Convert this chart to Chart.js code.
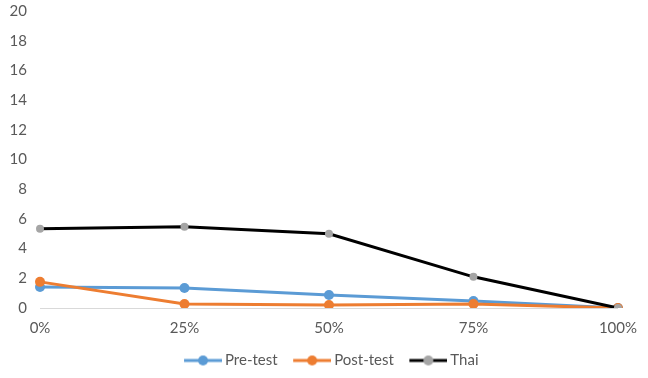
<!DOCTYPE html>
<html>
<head>
<meta charset="utf-8">
<script src="https://cdn.jsdelivr.net/npm/chart.js@4.4.1/dist/chart.umd.min.js"></script>
<style>
  html, body { margin: 0; padding: 0; background: #fff; }
  #wrap { width: 648px; height: 378px; }
</style>
</head>
<body>
<div id="wrap"><canvas id="chart" width="648" height="378"></canvas></div>
<script>
// dane
const categories = ['0%', '25%', '50%', '75%', '100%'];
const preTest = [1.42, 1.35, 0.88, 0.47, 0];
const postTest = [1.76, 0.27, 0.2, 0.27, 0];
const thai = [5.34, 5.47, 5.0, 2.1, 0];
const seriesNames = ['Pre-test', 'Post-test', 'Thai'];

const textColor = '#595959';
const fontFamily = 'Lato, "Open Sans", sans-serif';

// ikonka legendy: przezroczysty margines z lewej, potem linia z kropką
function legendIcon(lineColor, dotColor) {
    const c = document.createElement('canvas');
    c.width = 53;
    c.height = 12;
    const g = c.getContext('2d');
    g.strokeStyle = lineColor;
    g.lineWidth = 3;
    g.beginPath();
    g.moveTo(15, 6);
    g.lineTo(53, 6);
    g.stroke();
    g.fillStyle = dotColor;
    g.beginPath();
    g.arc(34, 6, 5, 0, Math.PI * 2);
    g.fill();
    return c;
}
const icons = [
    legendIcon('#5b9bd5', '#5b9bd5'),
    legendIcon('#ed7d31', '#ed7d31'),
    legendIcon('#000000', '#a5a5a5')
];

// przesunięcie legendy, żeby była wyśrodkowana pod obszarem wykresu
const legendShift = {
    id: 'legendShift',
    afterLayout(chart) {
        if (chart.legend) {
            chart.legend.left += 15;
            chart.legend.right += 15;
        }
    }
};

const ctx = document.getElementById('chart').getContext('2d');
new Chart(ctx, {
    type: 'line',
    data: {
        labels: categories,
        datasets: [{
            label: seriesNames[0],
            data: preTest,
            borderColor: '#5b9bd5',
            backgroundColor: '#5b9bd5',
            borderWidth: 3,
            pointRadius: 5,
            pointBorderWidth: 0,
            order: 2
        }, {
            label: seriesNames[1],
            data: postTest,
            borderColor: '#ed7d31',
            backgroundColor: '#ed7d31',
            borderWidth: 3,
            pointRadius: 5,
            pointBorderWidth: 0,
            order: 1
        }, {
            label: seriesNames[2],
            data: thai,
            borderColor: '#000000',
            backgroundColor: '#a5a5a5',
            borderWidth: 3,
            pointRadius: 4,
            pointBorderWidth: 0,
            order: 0
        }]
    },
    plugins: [legendShift],
    options: {
        responsive: false,
        animation: false,
        tension: 0,
        elements: {
            point: { pointStyle: 'circle' }
        },
        layout: {
            padding: { left: 0, right: 26, top: 11, bottom: 0 }
        },
        scales: {
            x: {
                offset: false,
                grid: { display: false, drawTicks: false },
                border: { color: '#d9d9d9', width: 1 },
                ticks: {
                    color: textColor,
                    font: { family: fontFamily, size: 15 },
                    padding: 11,
                    maxRotation: 0
                }
            },
            y: {
                min: 0,
                max: 20,
                grid: { display: false, drawTicks: false },
                border: { display: false },
                ticks: {
                    stepSize: 2,
                    color: textColor,
                    font: { family: fontFamily, size: 15 },
                    padding: 13
                },
                afterFit: function (scale) {
                    scale.width = 40;
                    scale.paddingTop = 0;
                }
            }
        },
        plugins: {
            legend: {
                position: 'bottom',
                labels: {
                    usePointStyle: true,
                    pointStyleWidth: 44,
                    color: textColor,
                    font: { family: fontFamily, size: 15 },
                    padding: 5,
                    sort: (a, b) => a.datasetIndex - b.datasetIndex,
                    generateLabels: function (chart) {
                        const items = Chart.defaults.plugins.legend.labels.generateLabels(chart);
                        items.forEach(item => {
                            item.pointStyle = icons[item.datasetIndex];
                        });
                        return items;
                    }
                }
            },
            tooltip: { enabled: false }
        }
    }
});
</script>
</body>
</html>
